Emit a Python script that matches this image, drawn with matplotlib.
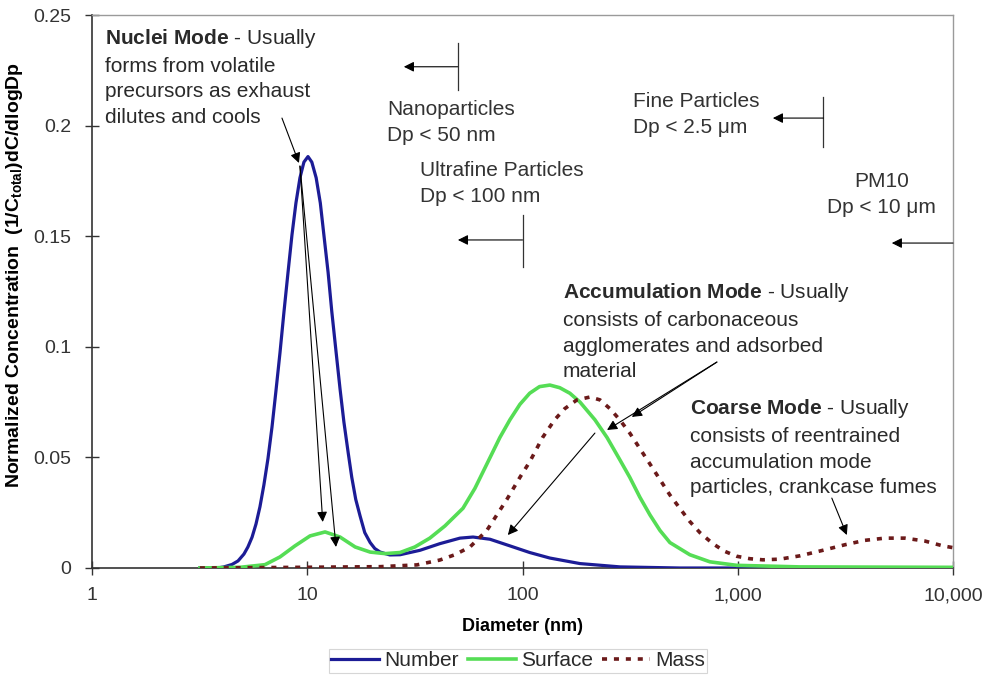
import matplotlib
matplotlib.use('Agg')
import matplotlib.pyplot as plt
from matplotlib.lines import Line2D

plt.rcParams['font.family'] = ['Liberation Sans', 'DejaVu Sans']
plt.rcParams['mathtext.fontset'] = 'custom'
plt.rcParams['mathtext.rm'] = 'Liberation Sans'
plt.rcParams['mathtext.it'] = 'Liberation Sans:italic'
plt.rcParams['mathtext.bf'] = 'Liberation Sans:bold'

# Normalized size distributions, (1/Ctotal) dC/dlogDp vs diameter in nm
number_dp = [3.17, 3.93, 4.10, 4.47, 4.77, 5.08, 5.30, 5.54, 5.78, 6.03, 6.29, 6.57,
             6.86, 7.15, 7.47, 7.79, 8.14, 8.49, 8.86, 9.25, 9.65, 10.08, 10.5, 11.0,
             11.5, 11.95, 12.5, 13.0, 13.6, 14.2, 14.8, 15.5, 16.1, 16.8, 17.6, 18.5,
             19.6, 20.6, 21.8, 24.2, 27.0, 33.4, 41.3, 51.2, 58.9, 70.6, 87.4, 108,
             134, 185, 284, 538, 10000]
number_val = [0.0, 0.0002, 0.0005, 0.0016, 0.0032, 0.0063, 0.0095, 0.0139, 0.0199,
              0.0277, 0.0376, 0.0495, 0.0638, 0.0798, 0.0973, 0.1155, 0.1336, 0.1505,
              0.165, 0.1764, 0.1835, 0.186, 0.1835, 0.1764, 0.165, 0.1505, 0.1336,
              0.116, 0.098, 0.081, 0.066, 0.052, 0.041, 0.031, 0.0235, 0.016, 0.0115,
              0.0088, 0.0072, 0.0059, 0.006, 0.008, 0.011, 0.0135, 0.014, 0.013, 0.010,
              0.007, 0.0045, 0.002, 0.0005, 0.0, 0.0]

surface_dp = [3.17, 4.87, 6.36, 7.47, 8.77, 10.3, 12.1, 14.2, 16.7, 19.6, 23.0, 27.0,
              31.6, 37.1, 43.6, 52.9, 60.1, 68.3, 78.5, 87.4, 97.3, 108, 120, 134, 149,
              166, 185, 217, 247, 283, 315, 351, 391, 435, 484, 599, 742, 990, 1943,
              10000]
surface_val = [0.0, 0.0003, 0.0015, 0.005, 0.010, 0.0145, 0.0163, 0.014, 0.0095,
               0.0072, 0.0065, 0.0070, 0.0095, 0.0135, 0.019, 0.027, 0.036, 0.047,
               0.059, 0.067, 0.074, 0.079, 0.082, 0.0827, 0.0815, 0.079, 0.075, 0.067,
               0.059, 0.049, 0.041, 0.032, 0.024, 0.017, 0.0115, 0.006, 0.0028, 0.0012,
               0.0005, 0.0003]

mass_dp = [3.17, 9.25, 21.8, 32.3, 41.3, 48.5, 57.0, 68.3, 84.6, 97.3, 108, 124, 141,
           157, 179, 206, 229, 255, 283, 315, 351, 391, 435, 484, 538, 599, 667, 766,
           871, 990, 1138, 1308, 1569, 1943, 2485, 3144, 3894, 4823, 5973, 7396, 8967,
           10000]
mass_val = [0.0, 0.0003, 0.0006, 0.0014, 0.0036, 0.006, 0.0095, 0.017, 0.031, 0.041,
            0.048, 0.059, 0.067, 0.072, 0.076, 0.0773, 0.076, 0.072, 0.067, 0.061,
            0.054, 0.047, 0.040, 0.033, 0.027, 0.021, 0.016, 0.011, 0.0075, 0.0053,
            0.0042, 0.0037, 0.0040, 0.0055, 0.008, 0.0105, 0.0125, 0.0135, 0.0135,
            0.0122, 0.0100, 0.0092]

x_ticks = [1, 10, 100, 1000, 10000]
x_tick_labels = ['1', '10', '100', '1,000', '10,000']
y_ticks = [0, 0.05, 0.1, 0.15, 0.2, 0.25]
y_tick_labels = ['0', '0.05', '0.1', '0.15', '0.2', '0.25']

# size-class cutoffs (nm) with the label drawn next to each bracket
cutoff_dp = [50, 100, 2500, 10000]

BLUE = '#1c1c96'
GREEN = '#55dd55'
MASS = '#6b1a1a'
TXT = '#2a2a2a'

fig = plt.figure(figsize=(9.87, 6.77), dpi=100)
ax = fig.add_axes([92 / 987, 1 - 568 / 677, 861 / 987, 553 / 677])

ax.plot(number_dp, number_val, color=BLUE, lw=2.3, label='Number', zorder=3)
ax.plot(surface_dp, surface_val, color=GREEN, lw=2.6, label='Surface', zorder=4)
ax.plot(mass_dp, mass_val, color=MASS, lw=2.6, linestyle=(0, (1.4, 1.9)),
        label='Mass', zorder=5)

ax.set_xscale('log')
ax.set_xlim(1, 10000)
ax.set_ylim(0, 0.25)
ax.set_xticks(x_ticks)
ax.set_xticklabels(x_tick_labels)
ax.xaxis.set_minor_locator(matplotlib.ticker.NullLocator())
ax.set_yticks(y_ticks)
ax.set_yticklabels(y_tick_labels)
ax.tick_params(direction='inout', length=10, width=1, colors='#333333',
               labelsize=14, labelcolor='#333333')
ax.tick_params(axis='y', pad=10)
ax.tick_params(axis='x', pad=9)

for side in ['left', 'bottom']:
    ax.spines[side].set_color('#333333')
    ax.spines[side].set_linewidth(1.2)
for side in ['top', 'right']:
    ax.spines[side].set_color('#9a9a9a')
    ax.spines[side].set_linewidth(1.0)

ax.set_xlabel('Diameter (nm)', fontsize=13, fontweight='bold', labelpad=10)
ax.set_ylabel(r'Normalized Concentration  (1/C$_{\bf{total}}$)dC/dlogDp',
              fontsize=14, fontweight='bold', labelpad=6)
ax.yaxis.label.set_y(0.53)

# mode descriptions
txt_kw = dict(fontsize=15, color=TXT, va='top', ha='left', linespacing=1.45)
ax.text(1.15, 0.2446, r'$\bf{Nuclei\ Mode}$ - Usually' '\nforms from volatile\n'
        'precursors as exhaust\ndilutes and cools', **txt_kw)
ax.text(154, 0.1297, r'$\bf{Accumulation\ Mode}$ - Usually' '\nconsists of carbonaceous\n'
        'agglomerates and adsorbed\nmaterial', **txt_kw)
ax.text(599, 0.0773, r'$\bf{Coarse\ Mode}$ - Usually' '\nconsists of reentrained\n'
        'accumulation mode\nparticles, crankcase fumes', **txt_kw)

arrow = dict(arrowstyle='-|>', color='black', lw=0.8, mutation_scale=15,
             shrinkA=0, shrinkB=0)
pointers = [
    ((7.63, 0.2034), (9.15, 0.1831)),
    ((9.25, 0.1817), (11.8, 0.0208)),
    ((9.25, 0.1817), (13.6, 0.0095)),
    ((800, 0.0931), (322, 0.0683)),
    ((800, 0.0931), (247, 0.0624)),
    ((217, 0.061), (85.5, 0.0149)),
    ((2735, 0.0316), (3212, 0.0149)),
]
for start, end in pointers:
    ax.annotate('', xy=end, xytext=start, arrowprops=arrow, zorder=6)

# size class brackets
cls_kw = dict(fontsize=15, color='#333333', va='top', linespacing=1.45)
ax.text(23.5, 0.2116, 'Nanoparticles\nDp < 50 nm', ha='left', **cls_kw)
ax.text(33.4, 0.184, 'Ultrafine Particles\nDp < 100 nm', ha='left', **cls_kw)
ax.text(326, 0.2152, 'Fine Particles\nDp < 2.5 \u03bcm', ha='left', **cls_kw)
ax.text(4670, 0.179, 'PM10\nDp < 10 \u03bcm', ha='center', **cls_kw)

bracket_span = [(0.2161, 0.2373), (0.1361, 0.1596), (0.1903, 0.2129), None]
arrow_y = [0.2266, 0.1483, 0.2034, 0.1469]
arrow_tip = [28.1, 50.1, 1456, 5196]
head = dict(arrowstyle='-|>', color='black', lw=0.8, mutation_scale=15,
            shrinkA=0, shrinkB=0)
for dp, span, ya, tip in zip(cutoff_dp, bracket_span, arrow_y, arrow_tip):
    if span is not None:
        ax.plot([dp, dp], span, color='#333333', lw=0.9, clip_on=False)
    ax.annotate('', xy=(tip, ya), xytext=(dp, ya), arrowprops=head)

handles = [Line2D([], [], color=BLUE, lw=2.3),
           Line2D([], [], color=GREEN, lw=2.6),
           Line2D([], [], color=MASS, lw=2.6, linestyle=(0, (1.4, 1.9)))]
leg = fig.legend(handles, ['Number', 'Surface', 'Mass'], loc='center',
                 bbox_to_anchor=(518 / 987, 1 - 661 / 677), ncol=3, fontsize=15,
                 frameon=True, fancybox=False, edgecolor='#cccccc',
                 handlelength=2.3, handletextpad=0.25, columnspacing=0.45,
                 borderpad=0.1, borderaxespad=0)
leg.get_frame().set_linewidth(0.8)
for t in leg.get_texts():
    t.set_color(TXT)

fig.savefig('out.png', dpi=100)
